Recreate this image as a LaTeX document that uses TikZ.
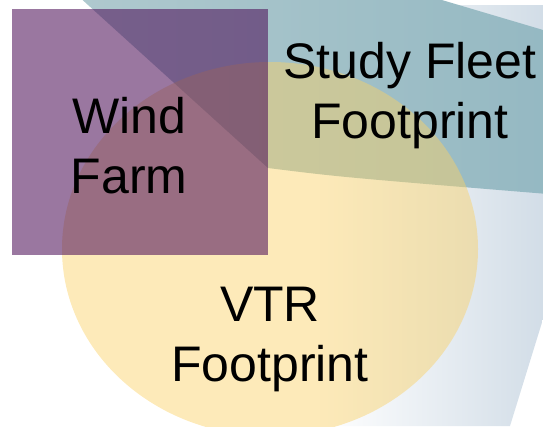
\documentclass[tikz,border=0pt]{standalone}
\usepackage{fontspec}
\setmainfont{Liberation Sans}
\usepackage{tikz}
\definecolor{fleetleft}{RGB}{175,201,206}
\definecolor{fleetright}{RGB}{148,184,194}
\definecolor{vtryellow}{RGB}{250,209,102}
\definecolor{windpurple}{RGB}{77,15,88}
\definecolor{haze}{RGB}{210,221,231}

\begin{document}
\begin{tikzpicture}[x=0.02cm,y=-0.02cm,
  regionlabel/.style={align=center,inner sep=0pt,anchor=north,
    font=\fontsize{28.45}{34.14}\selectfont}]
  \useasboundingbox (0,0) rectangle (543,426);
  \clip (0,0) rectangle (543,426);
  % pale haze behind the fleet band (fades out to the left)
  \begin{scope}
    \clip (250,5) -- (640,5) -- (510,426) -- (250,426) -- cycle;
    \shade[left color=white,right color=haze] (320,0) rectangle (543,426);
  \end{scope}
  % study fleet footprint
  \shade[left color=fleetleft,right color=fleetright]
    (77,-5) -- (268,168) .. controls (340,177) .. (560,195) -- (560,35) -- (425,-5) -- cycle;
  % VTR footprint (see-through, so the band shows under it)
  \fill[vtryellow,opacity=0.46] (270,249) ellipse [x radius=208,y radius=187];
  % wind farm
  \fill[windpurple,opacity=0.57] (12,9) rectangle (268,255);
  % labels
  \node[regionlabel] (fleet) at (410,42) {Study Fleet\\Footprint};
  \node[regionlabel] (wind) at (129,97) {Wind\\Farm};
  \node[regionlabel] (vtr) at (270,287) {VTR\\Footprint};
\end{tikzpicture}
\end{document}
